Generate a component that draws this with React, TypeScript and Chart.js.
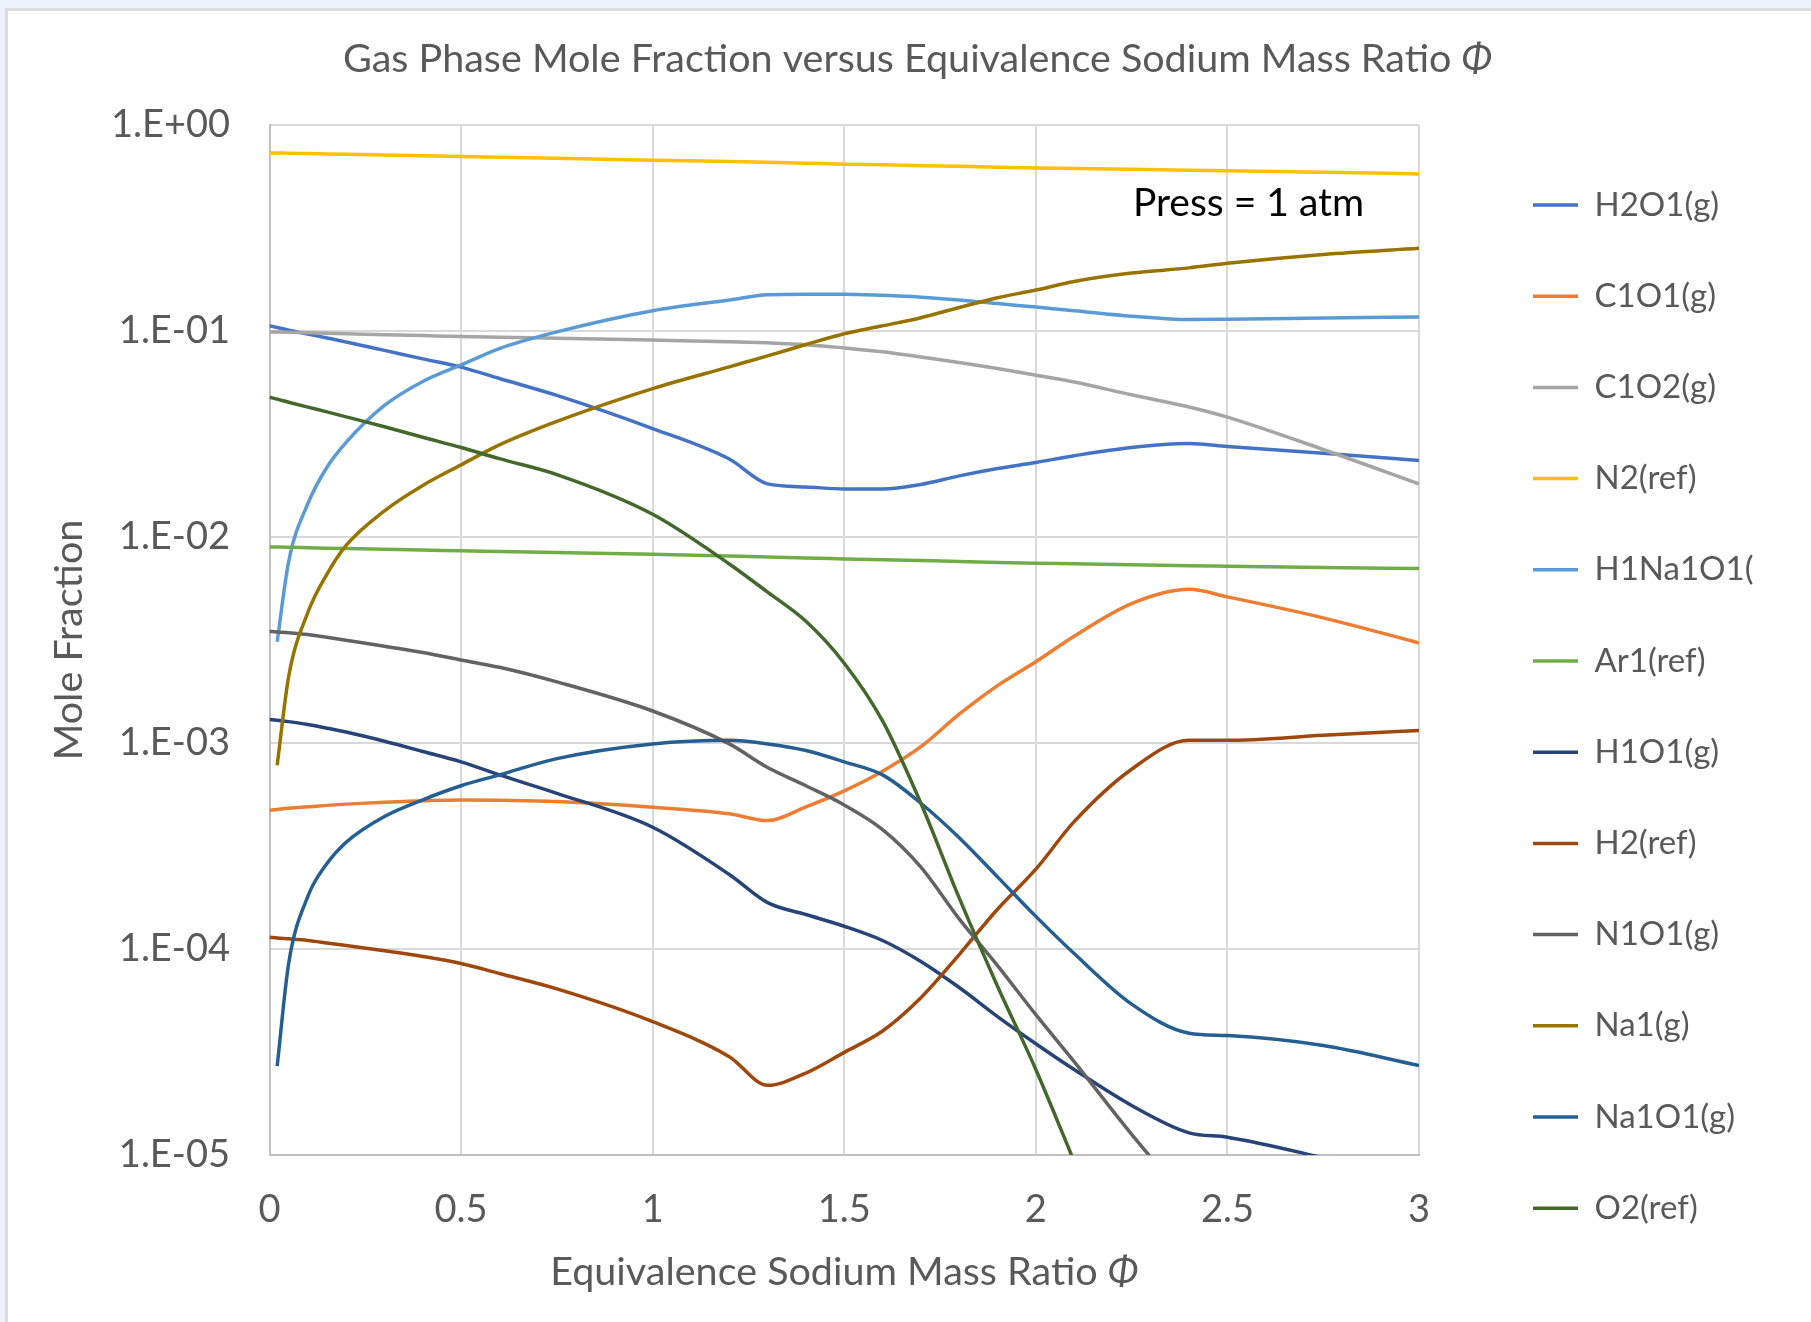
import React, { useEffect, useRef } from "react";
import { Chart, registerables } from "chart.js";

Chart.register(...registerables);

// ---------- data ----------
const PHI = [0, 0.02, 0.05, 0.1, 0.15, 0.2, 0.3, 0.4, 0.5, 0.6, 0.75, 1.0, 1.2, 1.3, 1.4, 1.5, 1.6, 1.7, 1.8, 1.9, 2.0, 2.1, 2.25, 2.4, 2.5, 2.75, 3.0];

const H2O1 = [0.106, 0.104, 0.101, 0.0966, 0.0925, 0.0885, 0.0805, 0.0732, 0.0668, 0.0588, 0.0487, 0.0336, 0.0239, 0.0181, 0.0175, 0.0171, 0.0171, 0.018, 0.0198, 0.0215, 0.023, 0.0248, 0.0272, 0.0284, 0.0275, 0.0255, 0.0235];
const C1O1 = [0.000472, 0.000476, 0.000482, 0.00049, 0.000498, 0.000505, 0.000516, 0.000524, 0.000529, 0.000527, 0.00052, 0.000488, 0.000453, 0.00042, 0.00049, 0.000586, 0.00073, 0.00096, 0.00138, 0.0019, 0.00248, 0.0033, 0.00475, 0.00557, 0.00512, 0.00405, 0.00306];
const C1O2 = [0.099, 0.0988, 0.0985, 0.098, 0.0975, 0.097, 0.096, 0.095, 0.094, 0.0932, 0.0922, 0.0904, 0.0888, 0.0876, 0.0858, 0.0827, 0.0793, 0.0747, 0.0703, 0.0657, 0.061, 0.0565, 0.049, 0.0428, 0.0382, 0.0266, 0.0181];
const N2 = [0.732, 0.731, 0.73, 0.727, 0.724, 0.721, 0.715, 0.709, 0.703, 0.698, 0.69, 0.675, 0.665, 0.66, 0.653, 0.645, 0.641, 0.635, 0.63, 0.624, 0.619, 0.615, 0.609, 0.603, 0.599, 0.589, 0.579];
const H1NA1O1 = [null, 0.0031, 0.0076, 0.0145, 0.0218, 0.0288, 0.0435, 0.0569, 0.0684, 0.0822, 0.099, 0.1255, 0.1414, 0.15, 0.151, 0.151, 0.149, 0.146, 0.1415, 0.136, 0.1306, 0.1255, 0.118, 0.1136, 0.114, 0.1155, 0.117];
const AR1 = [0.00894, 0.00893, 0.00891, 0.00887, 0.00883, 0.00879, 0.00871, 0.00864, 0.00858, 0.00851, 0.00841, 0.00824, 0.00808, 0.008, 0.00791, 0.00783, 0.00775, 0.00768, 0.00761, 0.00753, 0.00746, 0.00741, 0.00733, 0.00726, 0.00722, 0.00712, 0.00703];
const H1O1 = [0.0013, 0.00129, 0.00127, 0.00123, 0.00118, 0.00113, 0.00102, 0.00091, 0.00081, 0.0007, 0.00057, 0.00039, 0.00023, 0.000168, 0.000147, 0.000129, 0.00011, 0.000087, 0.000065, 0.000047, 0.0000347, 0.000026, 0.0000174, 0.0000128, 0.0000122, 0.0000097, 0.0000075];
const H2 = [0.000114, 0.000113, 0.000112, 0.00011, 0.000107, 0.000104, 0.000098, 0.000092, 0.000085, 0.000076, 0.000064, 0.0000444, 0.00003, 0.0000218, 0.000025, 0.0000315, 0.00004, 0.000058, 0.000094, 0.000156, 0.000244, 0.000415, 0.000746, 0.00103, 0.00103, 0.00109, 0.00115];
const N1O1 = [0.00348, 0.00346, 0.00343, 0.00336, 0.00326, 0.00315, 0.00295, 0.00275, 0.00253, 0.00233, 0.00198, 0.00143, 0.00099, 0.00076, 0.00062, 0.0005, 0.00038, 0.00025, 0.00014, 0.000083, 0.000048, 0.0000284, 0.0000126, 0.000006, 0.000004, 0.000002, 0.000001];
const NA1 = [null, 0.00078, 0.0021, 0.0043, 0.0066, 0.0091, 0.0134, 0.0178, 0.0224, 0.028, 0.0364, 0.0525, 0.067, 0.0757, 0.086, 0.097, 0.106, 0.116, 0.13, 0.145, 0.158, 0.174, 0.191, 0.2025, 0.213, 0.235, 0.252];
const NA1O1 = [null, 0.000027, 0.000085, 0.00018, 0.00026, 0.00033, 0.00044, 0.00053, 0.00062, 0.0007, 0.00084, 0.00099, 0.00103, 0.00099, 0.00092, 0.00081, 0.0007, 0.00051, 0.000347, 0.000224, 0.000144, 0.000095, 0.000054, 0.000039, 0.000038, 0.000034, 0.0000272];
const O2 = [0.0477, 0.0467, 0.0451, 0.0427, 0.0405, 0.0383, 0.0343, 0.0305, 0.0272, 0.024, 0.0201, 0.0129, 0.0074, 0.0054, 0.0039, 0.00244, 0.00128, 0.00051, 0.000177, 0.000066, 0.000026, 0.0000093, 0.000002, null, null, null, null];

const SERIES_NAMES = ["H2O1(g)", "C1O1(g)", "C1O2(g)", "N2(ref)", "H1Na1O1(", "Ar1(ref)", "H1O1(g)", "H2(ref)", "N1O1(g)", "Na1(g)", "Na1O1(g)", "O2(ref)"];
const SERIES_VALUES = [H2O1, C1O1, C1O2, N2, H1NA1O1, AR1, H1O1, H2, N1O1, NA1, NA1O1, O2];
const SERIES_COLORS = ["#4472C4", "#ED7D31", "#A5A5A5", "#FFC000", "#5B9BD5", "#70AD47", "#264478", "#9E480E", "#636363", "#997300", "#255E91", "#43682B"];

const Y_TICKS = [1, 0.1, 0.01, 0.001, 0.0001, 0.00001];
const X_TICKS = [0, 0.5, 1, 1.5, 2, 2.5, 3];

const TITLE_MAIN = "Gas Phase Mole Fraction versus Equivalence Sodium Mass Ratio ";
const X_TITLE_MAIN = "Equivalence Sodium Mass Ratio ";
const PHI_SYMBOL = "Φ";
const Y_TITLE = "Mole Fraction";
const NOTE = "Press = 1 atm";
const NOTE_AT = { x: 2.555, y: 0.418 };

// ---------- layout ----------
const FONT = "Lato, 'Liberation Sans', sans-serif";
const W = 1803;
const H = 1311;
const CA_LEFT = 261.5;
const CA_RIGHT = 1411;
const CA_TOP = 114;
const CA_BOTTOM = 1144;
const PAD_L = 16;
const TITLE_FS = 39.5;
const TITLE_CY = 48;
const TICK_FS = 38;
const AXT_FS = 39.5;
const XT_CY = 1261;
const LEG_FS = 33;
const NOTE_FS = 39;
const LEG_BOX_W = 45;
const LEG_SPACING = 91.2;
const LEG_PAD = LEG_SPACING - LEG_FS;
const LEG_FIRST_CY = 194;
const LEG_TITLE_PAD = Math.max(0, (LEG_FIRST_CY - LEG_FS / 2 - CA_TOP - LEG_PAD - 1.2) / 2);
const DUMMY_W = 1525 - LEG_PAD - CA_RIGHT;
const GREY = "#595959";

function fmtExp(v: number): string {
  const e = Math.round(Math.log10(v));
  const s = e < 0 ? "-" : "+";
  const a = Math.abs(e);
  return "1.E" + s + (a < 10 ? "0" + a : String(a));
}

function drawMixed(c: CanvasRenderingContext2D, main: string, sym: string, size: number, cx: number, cy: number) {
  c.save();
  c.fillStyle = GREY;
  c.textBaseline = "middle";
  c.textAlign = "left";
  const fMain = `${size}px ${FONT}`;
  const fSym = `italic ${size}px ${FONT}`;
  c.font = fMain;
  const w1 = c.measureText(main).width;
  c.font = fSym;
  const w2 = c.measureText(sym).width;
  const x0 = cx - (w1 + w2) / 2;
  c.font = fMain;
  c.fillText(main, x0, cy);
  c.font = fSym;
  c.fillText(sym, x0 + w1, cy);
  c.restore();
}

export default function App() {
  const ref = useRef<HTMLCanvasElement | null>(null);

  useEffect(() => {
    const canvas = ref.current;
    if (!canvas) return;

    const mctx = document.createElement("canvas").getContext("2d")!;
    mctx.font = `${LEG_FS}px ${FONT}`;
    let maxW = 0;
    for (const n of SERIES_NAMES) maxW = Math.max(maxW, mctx.measureText(n).width);
    const legendW = LEG_PAD + LEG_BOX_W + LEG_FS / 2 + maxW + 10;
    const padR0 = Math.max(0, W - CA_RIGHT - DUMMY_W - legendW);

    const axtLH = AXT_FS * 1.2;
    const tickLH = TICK_FS * 1.2;

    const datasets = SERIES_NAMES.map((name, i) => ({
      label: name,
      data: PHI.map((x, j) => ({ x, y: SERIES_VALUES[i][j] })),
      borderColor: SERIES_COLORS[i],
      backgroundColor: SERIES_COLORS[i],
      borderWidth: 3.5,
      pointRadius: 0,
      pointHoverRadius: 0,
      fill: false,
      cubicInterpolationMode: "monotone" as const,
      spanGaps: false,
      order: SERIES_NAMES.length - i,
    }));

    const textPlugin = {
      id: "texts",
      afterDatasetsDraw(chart: any) {
        const c = chart.ctx as CanvasRenderingContext2D;
        const xs = chart.scales.x;
        const ys = chart.scales.y;
        c.save();
        c.font = `${NOTE_FS}px ${FONT}`;
        c.fillStyle = "#000000";
        c.textAlign = "center";
        c.textBaseline = "middle";
        c.fillText(NOTE, xs.getPixelForValue(NOTE_AT.x), ys.getPixelForValue(NOTE_AT.y));
        c.restore();
      },
      afterDraw(chart: any) {
        const c = chart.ctx as CanvasRenderingContext2D;
        const ca = chart.chartArea;
        drawMixed(c, TITLE_MAIN, PHI_SYMBOL, TITLE_FS, (PAD_L + W) / 2, TITLE_CY);
        drawMixed(c, X_TITLE_MAIN, PHI_SYMBOL, AXT_FS, (ca.left + ca.right) / 2, XT_CY);
      },
    };

    const chart = new Chart(canvas, {
      type: "line",
      data: { datasets: datasets as any },
      plugins: [textPlugin],
      options: {
        responsive: false,
        animation: false,
        devicePixelRatio: 1,
        events: [],
        layout: { padding: { left: PAD_L, right: padR0, top: CA_TOP, bottom: 0 } },
        plugins: {
          tooltip: { enabled: false },
          title: { display: false },
          legend: {
            display: true,
            position: "right",
            align: "start",
            title: { display: true, text: " ", font: { size: 1 }, padding: { top: LEG_TITLE_PAD, bottom: LEG_TITLE_PAD } },
            labels: {
              color: GREY,
              font: { family: FONT, size: LEG_FS },
              boxWidth: LEG_BOX_W,
              boxHeight: 3.5,
              padding: LEG_PAD,
              generateLabels: (ch: any) =>
                ch.data.datasets.map((ds: any, i: number) => ({
                  text: ds.label,
                  fillStyle: ds.borderColor,
                  strokeStyle: ds.borderColor,
                  lineWidth: 0,
                  hidden: false,
                  datasetIndex: i,
                  fontColor: GREY,
                })),
            },
          },
        },
        scales: {
          x: {
            type: "linear",
            min: 0,
            max: 3,
            afterBuildTicks: (s: any) => {
              s.ticks = X_TICKS.map((v) => ({ value: v }));
            },
            afterFit: (s: any) => {
              s.height = H - CA_BOTTOM;
            },
            grid: { color: "#D9D9D9", lineWidth: 2, drawTicks: false },
            border: { color: "#BFBFBF", width: 2 },
            ticks: {
              color: GREY,
              font: { family: FONT, size: TICK_FS },
              padding: 1199 - CA_BOTTOM - tickLH / 2,
              maxRotation: 0,
              callback: (v: any) => String(Number(v)),
            },
            title: { display: false },
          },
          y: {
            type: "logarithmic",
            position: "left",
            min: 0.00001,
            max: 1,
            afterBuildTicks: (s: any) => {
              s.ticks = Y_TICKS.map((v) => ({ value: v }));
            },
            afterFit: (s: any) => {
              s.width = CA_LEFT - PAD_L;
            },
            grid: { color: "#D9D9D9", lineWidth: 2, drawTicks: false },
            border: { color: "#BFBFBF", width: 2 },
            ticks: {
              color: GREY,
              font: { family: FONT, size: TICK_FS },
              padding: CA_LEFT - 222,
              callback: (v: any) => fmtExp(Number(v)),
            },
            title: {
              display: true,
              text: Y_TITLE,
              color: GREY,
              font: { family: FONT, size: AXT_FS },
              padding: { top: 61 - PAD_L - axtLH / 2, bottom: 0 },
            },
          },
          y2: {
            type: "linear",
            position: "right",
            display: true,
            weight: 0,
            grid: { display: false },
            border: { display: false },
            ticks: { display: false },
            afterFit: (s: any) => {
              s.width = DUMMY_W;
            },
          },
        },
      },
    });

    for (let k = 0; k < 3; k++) {
      const err = chart.chartArea.right - CA_RIGHT;
      if (Math.abs(err) < 0.05) break;
      const pad = (chart.options.layout as any).padding;
      pad.right = Math.max(0, pad.right + err);
      chart.update();
    }

    return () => chart.destroy();
  }, []);

  return (
    <div
      style={{
        position: "absolute",
        left: 0,
        top: 0,
        width: 1811,
        height: 1322,
        background: "#EBF2FA",
        overflow: "hidden",
      }}
    >
      <div
        style={{
          position: "absolute",
          left: 5,
          top: 8,
          width: 1806,
          height: 1314,
          boxSizing: "border-box",
          background: "#FFFFFF",
          borderLeft: "3px solid #DCDCDC",
          borderTop: "3px solid #DCDCDC",
        }}
      >
        <canvas ref={ref} width={W} height={H} style={{ display: "block", width: W, height: H }} />
      </div>
    </div>
  );
}
